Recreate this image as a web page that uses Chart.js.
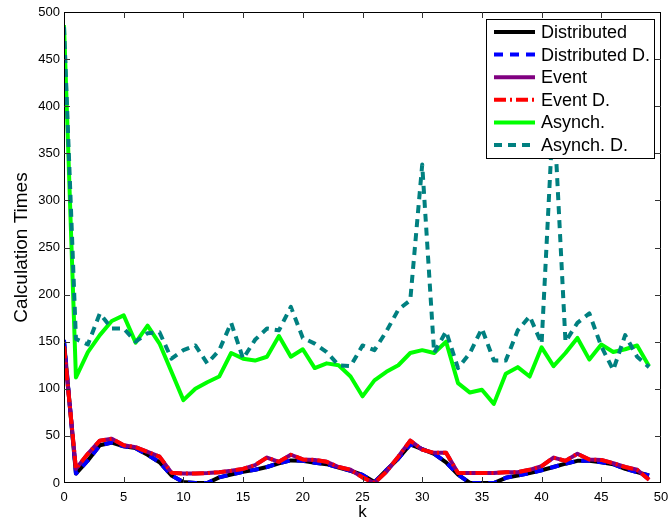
<!DOCTYPE html>
<html>
<head>
<meta charset="utf-8">
<title>Calculation Times</title>
<script src="https://cdn.jsdelivr.net/npm/chart.js@4.4.1/dist/chart.umd.min.js"></script>
<style>
  html, body { margin: 0; padding: 0; background: #fff; }
  #wrap { width: 669px; height: 523px; }
</style>
</head>
<body>
<div id="wrap"><canvas id="chart" width="669" height="523"></canvas></div>
<script>
// ---- data ----
const kValues = [0,1,2,3,4,5,6,7,8,9,10,11,12,13,14,15,16,17,18,19,20,21,22,23,24,25,26,27,28,29,30,31,32,33,34,35,36,37,38,39,40,41,42,43,44,45,46,47,48,49];

const distributed   = [150,10,24,40,43,39,37,30,22,8,1,0,0,6,9,12,14,17,21,24,23.5,21.5,20,16.5,13,8.5,1,13.5,26,41,36,31,22,9,0,0,0,5.5,8,10.5,13.5,17,20.5,23.5,23.5,22,20,15,11.5,8];
const distributedD  = [152,10,24,40,43,39,37,30,22,8,1,0,0,6,9,12,14,17,21,24,23.5,21.5,20,16.5,13,8.5,1,13.5,26,41,36,31,22,9,0,0,0,5.5,8,10.5,13.5,17,20.5,23.5,23.5,22,20,15,11.5,8];
const eventT        = [145,15,31,45,47,40,38,33,28,11,10,10,10.5,11.5,13,15,19,27,22.5,30,25,24.5,22.5,17,14,6,0,12,28,45,35.5,32,32,10.5,10.5,10.5,10.5,11.5,11.5,14,18,27,23.5,31,25,24.5,21,17,14,3.5];
const eventD        = [145,15,31,45,47,40,38,33,28,11,10,10,10.5,11.5,13,15,19,27,22.5,30,25,24.5,22.5,17,14,6,0,12,28,45,35.5,32,32,10.5,10.5,10.5,10.5,11.5,11.5,14,18,27,23.5,31,25,24.5,21,17,14,3.5];
const asynch        = [486,112,139,157,172,178,149,167,148,118,88,100,107,113,138,132,130,134,156,134,142,122,127,125,113,92,109,118,125,138,141,138,150,106,96,99,84,116,123,113,144,124,138,154,131,147,139,142,146,124];
const asynchD       = [484,153,147,180,164,164,150,159,160,132,141,146,127,141,170,132,152,164,162,187,154,148,139,125,124,146,141,161,184,194,338,138,161,122,138,164,130,130,162,177,148,400,150,170,180,145,120,157,134,123];

const seriesNames = ['Distributed','Distributed D.','Event','Event D.','Asynch.','Asynch. D.'];
const xTicks = [0,5,10,15,20,25,30,35,40,45,50];
const yTicks = [0,50,100,150,200,250,300,350,400,450,500];

const FONT = '"Liberation Sans", Arial, Helvetica, sans-serif';

function pts(arr){ return arr.map((v,i) => ({ x: kValues[i], y: v })); }

// style per series (same order as seriesNames)
const styles = [
  { color:'#000000', dash:[] },
  { color:'#0000ff', dash:[9,7] },
  { color:'#800080', dash:[] },
  { color:'#ff0000', dash:[12,4,2,4] },
  { color:'#00ff00', dash:[] },
  { color:'#008080', dash:[8,6] }
];
const allSeries = [distributed, distributedD, eventT, eventD, asynch, asynchD];

const datasets = allSeries.map((s,i) => ({
  label: seriesNames[i],
  data: pts(s),
  borderColor: styles[i].color,
  borderDash: styles[i].dash,
  borderWidth: 4,
  borderJoinStyle: 'round',
  pointRadius: 0,
  tension: 0,
  fill: false,
  order: allSeries.length - i   // later series drawn on top
}));

// ---- box + inward ticks (matlab look) ----
const frame = {
  id: 'frame',
  afterDatasetsDraw(chart){
    const { ctx, chartArea: a, scales: { x, y } } = chart;
    ctx.save();
    ctx.setLineDash([]);
    ctx.lineWidth = 1;
    ctx.strokeStyle = '#000';
    ctx.strokeRect(a.left + 0.5, a.top + 0.5, a.right - a.left - 1, a.bottom - a.top - 1);
    ctx.strokeStyle = '#333';
    ctx.beginPath();
    xTicks.slice(1, -1).forEach(v => {
      const px = Math.round(x.getPixelForValue(v)) + 0.5;
      ctx.moveTo(px, a.bottom); ctx.lineTo(px, a.bottom - 6);
      ctx.moveTo(px, a.top);    ctx.lineTo(px, a.top + 6);
    });
    yTicks.slice(1, -1).forEach(v => {
      const py = Math.round(y.getPixelForValue(v)) + 0.5;
      ctx.moveTo(a.left, py);  ctx.lineTo(a.left + 6, py);
      ctx.moveTo(a.right, py); ctx.lineTo(a.right - 6, py);
    });
    ctx.stroke();
    ctx.restore();
  }
};

// ---- legend box inside the plot, top right ----
const legendBox = {
  id: 'legendBox',
  afterDatasetsDraw(chart){
    const { ctx, chartArea: a } = chart;
    const w = 168, h = 139;
    const left = a.right - 175, top = a.top + 7;
    ctx.save();
    ctx.fillStyle = '#fff';
    ctx.fillRect(left, top, w, h);
    ctx.setLineDash([]);
    ctx.lineWidth = 1;
    ctx.strokeStyle = '#000';
    ctx.strokeRect(left + 0.5, top + 0.5, w, h);
    ctx.font = '18px ' + FONT;
    ctx.textBaseline = 'middle';
    ctx.textAlign = 'left';
    seriesNames.forEach((name, i) => {
      const cy = top + 13 + i * 22.6;
      ctx.beginPath();
      ctx.lineWidth = 4;
      ctx.strokeStyle = styles[i].color;
      ctx.setLineDash(styles[i].dash);
      ctx.moveTo(left + 8, cy);
      ctx.lineTo(left + 49, cy);
      ctx.stroke();
      ctx.setLineDash([]);
      ctx.fillStyle = '#000';
      ctx.fillText(name, left + 55, cy + 1);
    });
    ctx.restore();
  }
};

new Chart(document.getElementById('chart'), {
  type: 'line',
  data: { datasets },
  options: {
    responsive: false,
    animation: false,
    devicePixelRatio: 1,
    layout: { padding: { left: 0, right: 8, top: 12, bottom: 0 } },
    plugins: { legend: { display: false }, tooltip: { enabled: false } },
    scales: {
      x: {
        type: 'linear', min: 0, max: 50,
        afterBuildTicks: s => { s.ticks = xTicks.map(v => ({ value: v })); },
        afterFit: s => { s.height = 40; s.paddingRight = 0; },
        grid: { display: false, drawTicks: false },
        border: { display: false },
        ticks: { color: '#000', padding: 7, font: { family: FONT, size: 13 }, maxRotation: 0 },
        title: { display: true, text: 'k', color: '#000', font: { family: FONT, size: 17 }, padding: { top: 0, bottom: 0 } }
      },
      y: {
        type: 'linear', min: 0, max: 500,
        afterBuildTicks: s => { s.ticks = yTicks.map(v => ({ value: v })); },
        afterFit: s => { s.width = 64; },
        grid: { display: false, drawTicks: false },
        border: { display: false },
        ticks: { color: '#000', padding: 4, font: { family: FONT, size: 13 } },
        title: { display: true, text: 'Calculation Times', color: '#000', font: { family: FONT, size: 19 }, padding: { top: 10, bottom: 0 } }
      }
    }
  },
  plugins: [frame, legendBox]
});
</script>
</body>
</html>
